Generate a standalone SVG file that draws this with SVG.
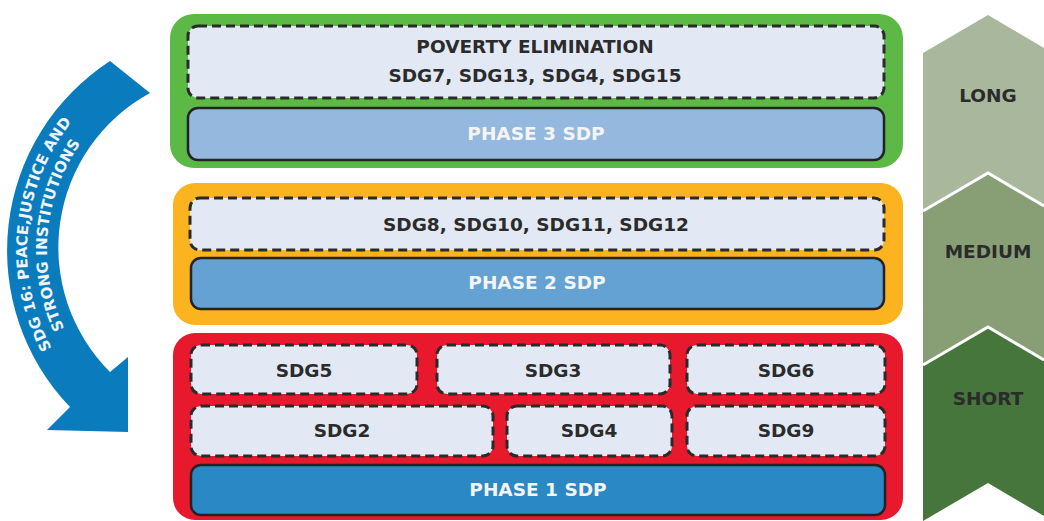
<svg xmlns="http://www.w3.org/2000/svg" width="1044" height="521" viewBox="0 0 1044 521">
<style>
.t{font-family:"DejaVu Sans","Liberation Sans",sans-serif;font-weight:700;font-size:18.5px;fill:#2b2b2b;text-anchor:middle}
.w{fill:#f4f4f4}
.dash{fill:#e2e9f4;stroke:#2a2a2a;stroke-width:3;stroke-dasharray:9 5}
.ph{stroke:#232323;stroke-width:2.5}
.at{font-family:"DejaVu Sans","Liberation Sans",sans-serif;font-weight:700;font-size:15px;fill:#eef4fa}
</style>
<defs>
<path id="arc1" d="M 75.2,382.4 A 206 206 0 0 1 100.6,92.2" fill="none"/>
<path id="arc2" d="M 90.5,369.6 A 186 186 0 0 1 113.4,107.5" fill="none"/>
</defs>

<g id="arrow-sdg16">
<path d="M 110,61 A 226 226 0 0 0 70,407 L 47,430 L 128,432 L 128,357 L 110,372 A 176 176 0 0 1 150,93 Z" fill="#0a7cbd"/>
<text class="at"><textPath href="#arc1" startOffset="50%" text-anchor="middle">SDG 16: PEACE,JUSTICE AND</textPath></text>
<text class="at"><textPath href="#arc2" startOffset="50%" text-anchor="middle">STRONG INSTITUTIONS</textPath></text>
</g>

<g id="phase3">
<rect x="170" y="14" width="733" height="154" rx="24" fill="#5cb946"/>
<g id="poverty">
<rect class="dash" x="188" y="26" width="696" height="72" rx="10"/>
<text class="t" x="535" y="53">POVERTY ELIMINATION</text>
<text class="t" x="535" y="82">SDG7, SDG13, SDG4, SDG15</text>
</g>
<g id="phase3-sdp">
<rect class="ph" x="188" y="108" width="696" height="52" rx="10" fill="#95b9de"/>
<text class="t w" x="536" y="140">PHASE 3 SDP</text>
</g>
</g>

<g id="phase2">
<rect x="173" y="183" width="730" height="142" rx="22" fill="#fbb31f"/>
<g id="sdg-mid">
<rect class="dash" x="190" y="198" width="694" height="52" rx="10"/>
<text class="t" x="536" y="231">SDG8, SDG10, SDG11, SDG12</text>
</g>
<g id="phase2-sdp">
<rect class="ph" x="191" y="258" width="693" height="51" rx="10" fill="#63a2d3"/>
<text class="t w" x="537" y="289">PHASE 2 SDP</text>
</g>
</g>

<g id="phase1">
<rect x="173" y="333" width="730" height="187" rx="22" fill="#e8192c"/>
<g id="sdg5"><rect class="dash" x="191" y="345" width="226" height="49" rx="10"/><text class="t" x="304" y="377">SDG5</text></g>
<g id="sdg3"><rect class="dash" x="437" y="345" width="233" height="49" rx="10"/><text class="t" x="553" y="377">SDG3</text></g>
<g id="sdg6"><rect class="dash" x="687" y="345" width="198" height="49" rx="10"/><text class="t" x="786" y="377">SDG6</text></g>
<g id="sdg2"><rect class="dash" x="191" y="406" width="302" height="50" rx="10"/><text class="t" x="342" y="437">SDG2</text></g>
<g id="sdg4"><rect class="dash" x="507" y="406" width="165" height="50" rx="10"/><text class="t" x="589" y="437">SDG4</text></g>
<g id="sdg9"><rect class="dash" x="687" y="406" width="198" height="50" rx="10"/><text class="t" x="786" y="437">SDG9</text></g>
<g id="phase1-sdp">
<rect class="ph" x="191" y="465" width="694" height="50" rx="10" fill="#2a88c5"/>
<text class="t w" x="538" y="496">PHASE 1 SDP</text>
</g>
</g>

<g id="timeline">
<g id="long"><polygon points="923,53 988,15 1044,48 1044,206 988,173 923,211" fill="#a9b89c"/><text class="t" x="988" y="102">LONG</text></g>
<g id="medium"><polygon points="923,211 988,173 1044,206 1044,360 988,327 923,365" fill="#889f76"/><text class="t" x="988" y="258">MEDIUM</text></g>
<g id="short"><polygon points="923,365 988,327 1044,360 1044,516 988,483 923,521" fill="#46763c"/><text class="t" x="988" y="405">SHORT</text></g>
<polyline points="923,211 988,173 1044,206" fill="none" stroke="#fff" stroke-width="3"/>
<polyline points="923,365 988,327 1044,360" fill="none" stroke="#fff" stroke-width="3"/>
</g>
</svg>
